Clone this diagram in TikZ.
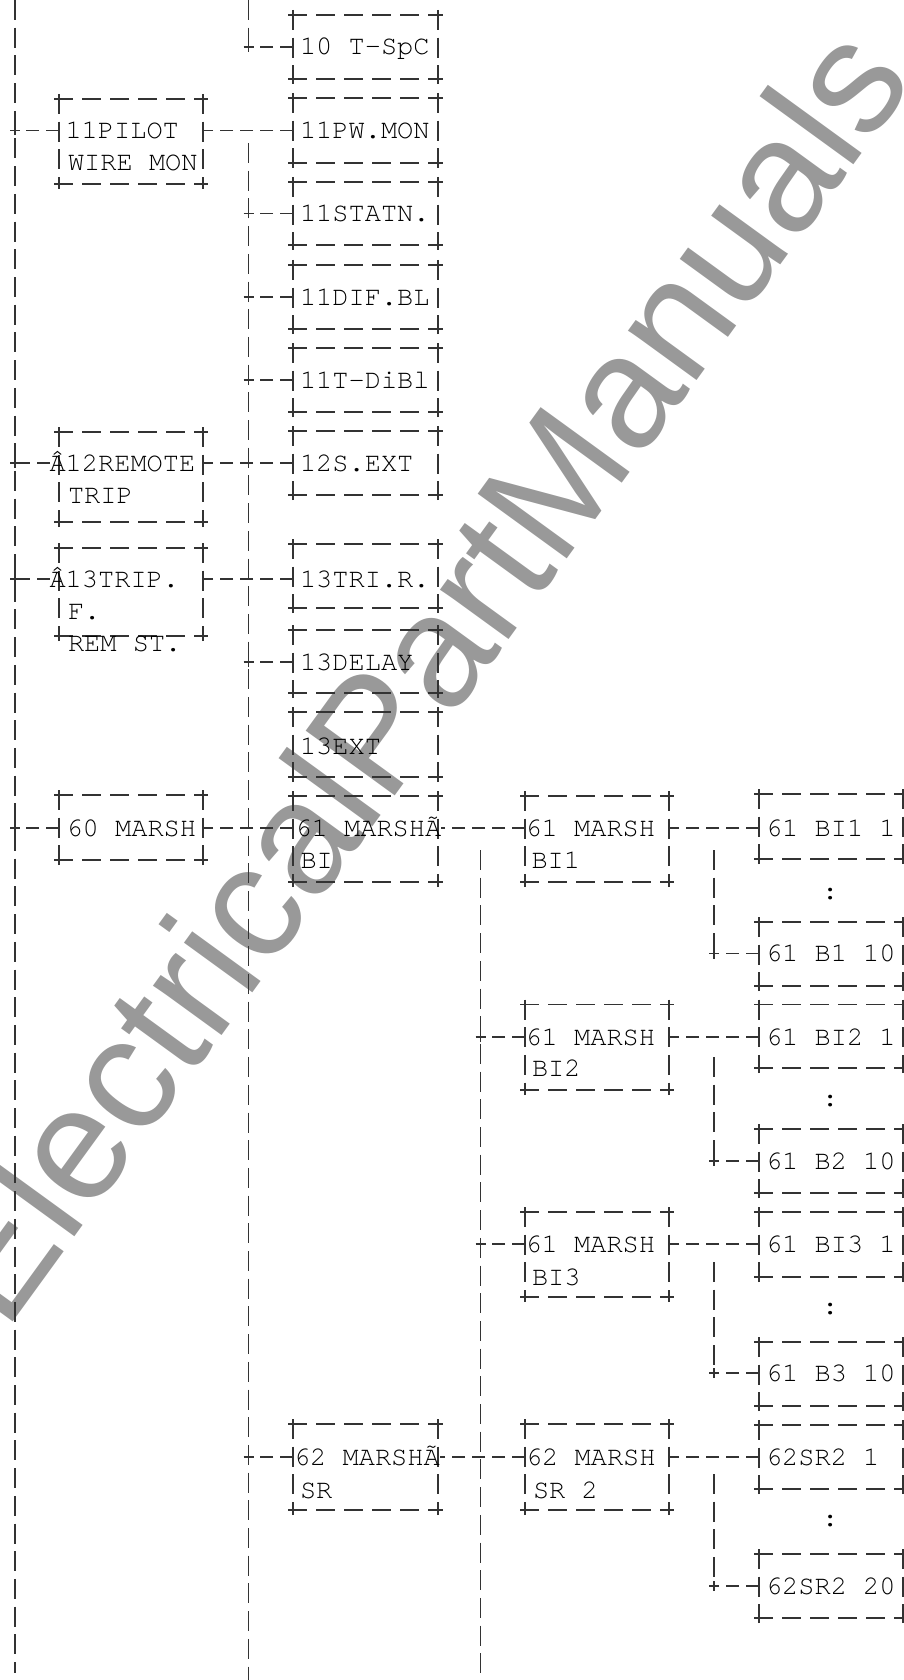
\documentclass[tikz,border=0pt]{standalone}
\usepackage{fontspec}
\newfontfamily\lblfont{texgyrecursor-regular.otf}
\newfontfamily\wmfont{Liberation Sans}
\definecolor{lc}{HTML}{333333}
\definecolor{wmc}{HTML}{999999}
\pgfdeclarelayer{wm}
\pgfdeclarelayer{bg}
\pgfsetlayers{wm,bg,main}
\tikzset{
  ln/.style={draw=lc, line width=1.2pt},
  hd/.style={ln, dash pattern=on 19pt off 9pt},
  vd/.style={ln, dash pattern=on 20pt off 7.7pt},
  cn/.style={ln, dash pattern=on 13pt off 7pt},
  tk/.style={ln, solid},
  boxn/.style={inner sep=0pt, outer sep=0pt, anchor=north west, draw=none},
  lbl/.style={font=\lblfont\fontsize{27}{32}\selectfont, anchor=base west, inner sep=0pt, outer sep=0pt, text=black},
  wmark/.style={font=\wmfont\fontsize{160}{160}\selectfont, text=wmc, anchor=base west, inner sep=0pt, outer sep=0pt, rotate=54},
}
\newcommand\crs[1]{\draw[tk] ([xshift=-5pt]#1) -- ([xshift=5pt]#1) ([yshift=-5pt]#1) -- ([yshift=5pt]#1);}
\newcommand\bx[6]{%
  \node[boxn, minimum width={(#4-#2)*1pt}, minimum height={(#5-#3)*1pt}] (#1) at (#2,#3) {};
  \coordinate (#1-i) at (#2,#6);
  \coordinate (#1-o) at (#4,#6);
  \draw[hd] ([xshift=-5pt]#1.north west) -- ([xshift=5pt]#1.north east);
  \draw[hd] ([xshift=-5pt]#1.south west) -- ([xshift=5pt]#1.south east);
  \draw[vd] ([yshift=5pt]#1.north west) -- ([yshift=-5pt]#1.south west);
  \draw[vd] ([yshift=5pt]#1.north east) -- ([yshift=-5pt]#1.south east);
  \crs{#1.north west}\crs{#1.north east}\crs{#1.south west}\crs{#1.south east}}
\begin{document}
\begin{tikzpicture}[x=1pt,y=-1pt]
\useasboundingbox (0,0) rectangle (904,1680);
\begin{pgfonlayer}{wm}
\node[wmark] (wmk) at (6,1332) {ElectricalPartManuals};
\end{pgfonlayer}
\begin{pgfonlayer}{bg}
\bx{a1}{59}{99}{203}{184}{130.5}
\bx{a2}{59}{432}{203}{522}{463}
\bx{a3}{59}{548}{203}{636}{579}
\bx{a4}{59}{795}{203}{860}{828}
\bx{b1}{293}{15}{438}{79}{47}
\bx{b2}{293}{98}{438}{163}{130.5}
\bx{b3}{293}{182}{438}{245}{213.5}
\bx{b4}{293}{265}{438}{329}{297}
\bx{b5}{293}{348}{438}{412}{380}
\bx{b6}{293}{431}{438}{495}{463}
\bx{b7}{293}{544}{438}{608}{579}
\bx{b8}{293}{630}{438}{693}{662}
\bx{b9}{293}{712}{438}{777}{746}
\bx{b10}{293}{796}{438}{882}{828}
\bx{b11}{293}{1424}{438}{1510}{1457}
\bx{c1}{525}{796}{669}{882}{828}
\bx{c2}{525}{1004.5}{669}{1090}{1037}
\bx{c3}{525}{1212}{669}{1297}{1244}
\bx{c4}{525}{1424}{669}{1510}{1457}
\bx{d1}{759}{794}{903}{859}{828}
\bx{d2}{759}{922}{903}{986}{953.5}
\bx{d3}{759}{1004.5}{903}{1068}{1037}
\bx{d4}{759}{1129}{903}{1193}{1161}
\bx{d5}{759}{1212}{903}{1277}{1244}
\bx{d6}{759}{1342}{903}{1406}{1373}
\bx{d7}{759}{1425}{903}{1489}{1457}
\bx{d8}{759}{1554}{903}{1618}{1586}
\end{pgfonlayer}
% texts
\node[lbl] (ta1) at (65.5,138.5) {11PILOT};
\node[lbl] (ta1b) at (68,170.5) {WIRE MON};
\node[lbl] (ta2) at (49.5,471) {Â12REMOTE};
\node[lbl] (ta2b) at (68,503) {TRIP};
\node[lbl] (ta3) at (49.5,587) {Â13TRIP.};
\node[lbl] (ta3b) at (68,619.5) {F.};
\node[lbl] (ta3c) at (68,651) {REM ST.};
\node[lbl] (ta4) at (66.5,836) {60 MARSH};
\node[lbl] (tb1) at (300,55) {10 T-SpC};
\node[lbl] (tb2) at (300,138.5) {11PW.MON};
\node[lbl] (tb3) at (300,221.5) {11STATN.};
\node[lbl] (tb4) at (300,305) {11DIF.BL};
\node[lbl] (tb5) at (300,388) {11T-DiBl};
\node[lbl] (tb6) at (300,471) {12S.EXT};
\node[lbl] (tb7) at (300,587) {13TRI.R.};
\node[lbl] (tb8) at (300,670) {13DELAY};
\node[lbl] (tb9) at (300,754) {13EXT};
\node[lbl] (tb10) at (295.5,836) {61 MARSHÃ};
\node[lbl] (tb10b) at (300.5,868) {BI};
\node[lbl] (tb11) at (294,1465) {62 MARSHÃ};
\node[lbl] (tb11b) at (300,1498) {SR};
\node[lbl] (tc1) at (525.5,836) {61 MARSH};
\node[lbl] (tc1b) at (531.5,868) {BI1};
\node[lbl] (tc2) at (525.5,1045) {61 MARSH};
\node[lbl] (tc2b) at (532,1076) {BI2};
\node[lbl] (tc3) at (525.5,1252) {61 MARSH};
\node[lbl] (tc3b) at (532,1285) {BI3};
\node[lbl] (tc4) at (526,1465) {62 MARSH};
\node[lbl] (tc4b) at (533,1498) {SR 2};
\node[lbl] (td1) at (766,836) {61 BI1 1};
\node[lbl] (td2) at (766,961.5) {61 B1 10};
\node[lbl] (td3) at (766,1045) {61 BI2 1};
\node[lbl] (td4) at (766,1169) {61 B2 10};
\node[lbl] (td5) at (766,1252) {61 BI3 1};
\node[lbl] (td6) at (766,1381) {61 B3 10};
\node[lbl] (td7) at (766,1465) {62SR2 1};
\node[lbl] (td8) at (766,1594) {62SR2 20};
\node[lbl] (cl1) at (822,899) {:};
\node[lbl] (cl2) at (822,1106) {:};
\node[lbl] (cl3) at (822,1314) {:};
\node[lbl] (cl4) at (822,1526) {:};
% connectors
\begin{pgfonlayer}{bg}
\coordinate (LTt) at (15,0);
\coordinate (LTb) at (15,1673);
\coordinate (BTt) at (248.5,0);
\coordinate (BTs) at (248.5,143);
\coordinate (BTb) at (248.5,1680);
\coordinate (CTs) at (480.5,850);
\coordinate (CTb) at (480.5,1680);
\coordinate (D1s) at (714,850);
\coordinate (D2s) at (714,1057);
\coordinate (D3s) at (714,1262);
\coordinate (D4s) at (714,1474);
% trunks
\draw[vd] (LTt) -- (LTb);
\coordinate (jB1) at (BTt |- b1-i);
\draw[vd] (BTt) -- (jB1);
\draw[vd] (BTs) -- (BTb);
\draw[vd] (CTs) -- (CTb);
\coordinate (jD2) at (D1s |- d2-i);
\coordinate (jD4) at (D2s |- d4-i);
\coordinate (jD6) at (D3s |- d6-i);
\coordinate (jD8) at (D4s |- d8-i);
\draw[vd] (D1s) -- (jD2);
\draw[vd] (D2s) -- (jD4);
\draw[vd] (D3s) -- (jD6);
\draw[vd] (D4s) -- (jD8);
% left trunk to column A
\coordinate (jL1) at (LTt |- a1-i);
\coordinate (jL2) at (LTt |- a2-i);
\coordinate (jL3) at (LTt |- a3-i);
\coordinate (jL4) at (LTt |- a4-i);
\coordinate (a2t) at (ta2.base west |- a2-i);
\coordinate (a3t) at (ta3.base west |- a3-i);
\draw[cn] (a1-i) -- (jL1);
\draw[cn] (a2t) -- (jL2);
\draw[cn] (a3t) -- (jL3);
\draw[cn] (a4-i) -- (jL4);
% column A to column B
\draw[cn] (b2-i) -- (a1-o);
\draw[cn] (b6-i) -- (a2-o);
\draw[cn] (b7-i) -- (a3-o);
\draw[cn] (b10-i) -- (a4-o);
% trunk B to column B
\coordinate (jB3) at (BTt |- b3-i);
\coordinate (jB4) at (BTt |- b4-i);
\coordinate (jB5) at (BTt |- b5-i);
\coordinate (jB8) at (BTt |- b8-i);
\coordinate (jB11) at (BTt |- b11-i);
\draw[cn] (b1-i) -- (jB1);
\draw[cn] (b3-i) -- (jB3);
\draw[cn] (b4-i) -- (jB4);
\draw[cn] (b5-i) -- (jB5);
\draw[cn] (b8-i) -- (jB8);
\draw[cn] (b11-i) -- (jB11);
% column B to column C
\coordinate (b10t) at (tb10.base east |- c1-i);
\coordinate (b11t) at (tb11.base east |- c4-i);
\draw[cn] (c1-i) -- (b10t);
\draw[cn] (c4-i) -- (b11t);
\coordinate (jC2) at (CTs |- c2-i);
\coordinate (jC3) at (CTs |- c3-i);
\draw[cn] (c2-i) -- (jC2);
\draw[cn] (c3-i) -- (jC3);
% column C to column D
\draw[cn] (d1-i) -- (c1-o);
\draw[cn] (d3-i) -- (c2-o);
\draw[cn] (d5-i) -- (c3-o);
\draw[cn] (d7-i) -- (c4-o);
\draw[cn] (d2-i) -- (jD2);
\draw[cn] (d4-i) -- (jD4);
\draw[cn] (d6-i) -- (jD6);
\draw[cn] (d8-i) -- (jD8);
% junction marks
\crs{jL1}\crs{jL2}\crs{jL3}\crs{jL4}
\crs{jB1}\crs{jB3}\crs{jB4}\crs{jB5}\crs{jB8}\crs{jB11}
\crs{jC2}\crs{jC3}
\crs{jD2}\crs{jD4}\crs{jD6}\crs{jD8}
\end{pgfonlayer}
\end{tikzpicture}
\end{document}
